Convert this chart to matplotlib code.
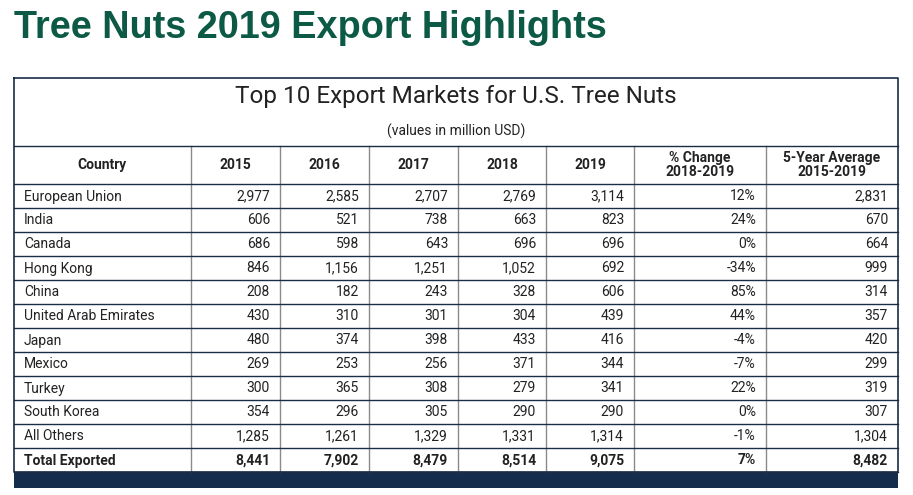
import matplotlib
matplotlib.use("Agg")
import matplotlib.pyplot as plt

countries = ["European Union", "India", "Canada", "Hong Kong", "China",
             "United Arab Emirates", "Japan", "Mexico", "Turkey", "South Korea",
             "All Others"]
y2015 = [2977, 606, 686, 846, 208, 430, 480, 269, 300, 354, 1285]
y2016 = [2585, 521, 598, 1156, 182, 310, 374, 253, 365, 296, 1261]
y2017 = [2707, 738, 643, 1251, 243, 301, 398, 256, 308, 305, 1329]
y2018 = [2769, 663, 696, 1052, 328, 304, 433, 371, 279, 290, 1331]
y2019 = [3114, 823, 696, 692, 606, 439, 416, 344, 341, 290, 1314]
pct_change = [12, 24, 0, -34, 85, 44, -4, -7, 22, 0, -1]
avg_5yr = [2831, 670, 664, 999, 314, 357, 420, 299, 319, 307, 1304]
total = ["Total Exported", 8441, 7902, 8479, 8514, 9075, 7, 8482]

headers = ["Country", "2015", "2016", "2017", "2018", "2019",
           "% Change\n2018-2019", "5-Year Average\n2015-2019"]

W, H = 913, 495
fig = plt.figure(figsize=(W / 100, H / 100), dpi=100)
ax = fig.add_axes([0, 0, 1, 1])
ax.set_xlim(0, W)
ax.set_ylim(H, 0)
ax.axis("off")

FONT = "Roboto"
navy = "#1b2c47"
gray = "#8a8a8a"
txt = "#222222"

# page title
ax.text(14, 28, "Tree Nuts 2019 Export Highlights", fontsize=27.3, fontweight="bold",
        color="#0c5a45", family="Liberation Sans", va="center", ha="left")

cols = [14, 191, 280, 369, 458, 546, 634, 766, 898]
box_top = 78
head_top = 146
head_bot = 184
row_h = 24
n_rows = len(countries) + 1
bottom = head_bot + row_h * n_rows

# table title block
ax.text((cols[0] + cols[-1]) / 2, 96, "Top 10 Export Markets for U.S. Tree Nuts",
        fontsize=17.5, family=FONT, color=txt, ha="center", va="center")
ax.text((cols[0] + cols[-1]) / 2, 131, "(values in million USD)",
        fontsize=10, family=FONT, color=txt, ha="center", va="center")

# header
for i, h in enumerate(headers):
    cx = (cols[i] + cols[i + 1]) / 2
    ax.text(cx, (head_top + head_bot) / 2, h, fontsize=10, fontweight="bold",
            family=FONT, color=txt, ha="center", va="center", linespacing=0.95)

rows = []
for i, c in enumerate(countries):
    rows.append([c, y2015[i], y2016[i], y2017[i], y2018[i], y2019[i],
                 pct_change[i], avg_5yr[i]])
rows.append(total)

for r, row in enumerate(rows):
    cy = head_bot + row_h * r + row_h / 2 + 0.5
    bold = r == len(rows) - 1
    for i, v in enumerate(row):
        if i == 0:
            s = v
            ax.text(cols[0] + 10, cy, s, fontsize=10, family=FONT, color=txt,
                    ha="left", va="center", fontweight="bold" if bold else "normal")
        else:
            s = f"{v}%" if i == 6 else f"{v:,}"
            ax.text(cols[i + 1] - 10, cy, s, fontsize=10, family=FONT, color=txt,
                    ha="right", va="center", fontweight="bold" if bold else "normal")

# grid lines
for x in cols[1:-1]:
    ax.plot([x, x], [head_top, bottom], color=gray, lw=1)
for k in range(n_rows + 1):
    y = head_bot + row_h * k
    ax.plot([cols[0], cols[-1]], [y, y], color=navy, lw=1)
ax.plot([cols[0], cols[-1]], [head_top, head_top], color=navy, lw=1)
ax.plot([cols[0], cols[-1], cols[-1], cols[0], cols[0]],
        [box_top, box_top, bottom, bottom, box_top], color=navy, lw=1.2)

# footer bar
ax.fill_between([cols[0], cols[-1]], bottom, bottom + 16, color="#142d4c", lw=0)

fig.savefig("out.png", dpi=100)
